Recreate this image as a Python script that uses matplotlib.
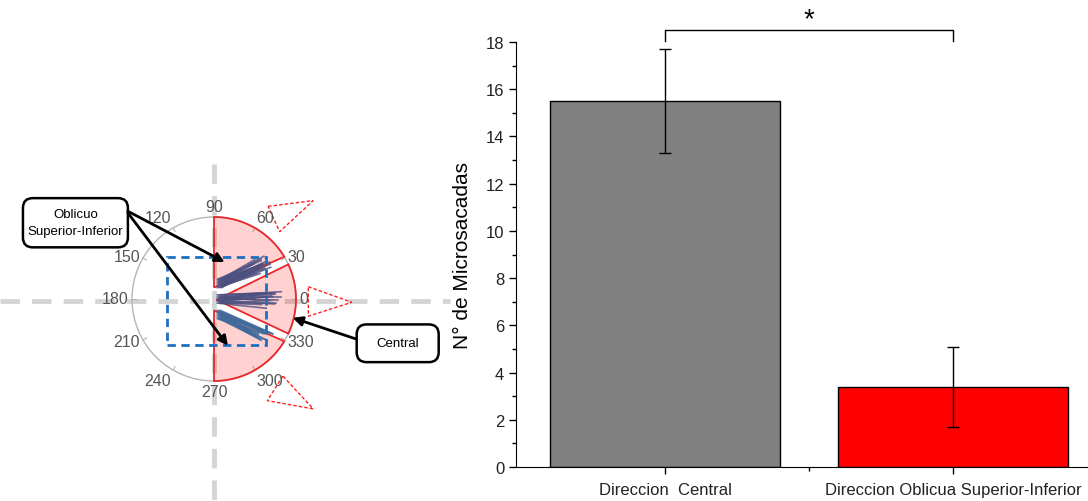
import numpy as np
import matplotlib
matplotlib.use("Agg")
import matplotlib.pyplot as plt
from matplotlib.patches import Polygon, Rectangle, Circle, FancyBboxPatch

plt.rcParams['font.family'] = ['Liberation Sans', 'DejaVu Sans']

# bar chart data
categories = ["Direccion  Central", "Direccion Oblicua Superior-Inferior"]
means = [15.5, 3.4]
errors = [2.2, 1.7]
bar_colors = ["#808080", "#ff0000"]

# polar diagram (unit circle, angles in degrees)
angle_labels = [0, 30, 60, 90, 120, 150, 180, 210, 240, 270, 300, 330]
upper_arc = (31, 90)
central_arc = (-25, 25)
lower_arc = (-90, -31)
# microsaccade traces: direction (deg), length
upper_dirs = [18, 20, 21, 22, 23, 24, 25, 26, 27, 19, 22, 24, 28, 21, 30, 33, 17, 25, 23, 29]
upper_lens = [0.55, 0.6, 0.5, 0.62, 0.58, 0.6, 0.52, 0.55, 0.6, 0.45, 0.66, 0.64, 0.5, 0.57,
              0.48, 0.42, 0.5, 0.62, 0.54, 0.58]
central_dirs = [-6, -3, -1, 0, 2, 3, 5, 7, 4, 1, -2, 6, 8, -4, 3, 0, 9, 5]
central_lens = [0.6, 0.68, 0.7, 0.72, 0.66, 0.62, 0.64, 0.55, 0.7, 0.58, 0.5, 0.6,
                0.52, 0.45, 0.74, 0.65, 0.48, 0.69]
lower_dirs = [-18, -20, -22, -23, -25, -26, -27, -29, -21, -24, -28, -30, -19, -32, -24, -26, -22, -31]
lower_lens = [0.6, 0.62, 0.58, 0.66, 0.6, 0.55, 0.62, 0.5, 0.64, 0.68, 0.56, 0.48, 0.52,
              0.45, 0.7, 0.58, 0.54, 0.6]
triangles = [
    [(0.66, 1.13), (1.21, 1.20), (0.80, 0.82)],
    [(1.15, 0.15), (1.68, -0.04), (1.15, -0.21)],
    [(0.84, -0.94), (0.65, -1.24), (1.21, -1.34)],
]

fig = plt.figure(figsize=(10.88, 5.02), dpi=100)

# ---- left: schematic polar diagram ----
axl = fig.add_axes([0, 0, 460 / 1088, 1])
axl.set_xlim(-214 / 82, 246 / 82)
axl.set_ylim(-202 / 82, 300 / 82)
axl.axis('off')

# crosshair
axl.plot([-2.61, 2.88], [-0.02, -0.02], color="#d4d4d4", lw=3.5, dashes=(4, 2.5), zorder=1)
axl.plot([0, 0], [1.65, -2.46], color="#d4d4d4", lw=3.5, dashes=(4, 2.5), zorder=1)

# gray circle and ticks
axl.add_patch(Circle((0, 0), 1.0, fill=False, ec="#b5b5b5", lw=1.0, zorder=2))
for a in angle_labels:
    t = np.deg2rad(a)
    c, s = np.cos(t), np.sin(t)
    axl.plot([0.95 * c, c], [0.95 * s, s], color="#b5b5b5", lw=0.8, zorder=2)
    ha = 'left' if c > 0.3 else ('right' if c < -0.3 else 'center')
    va = 'bottom' if s > 0.6 else ('top' if s < -0.6 else 'center')
    axl.text(1.04 * c, 1.04 * s, str(a), ha=ha, va=va, fontsize=11.5, color="#555555", zorder=5)


def sector(arc, apex):
    th = np.deg2rad(np.linspace(arc[0], arc[1], 60))
    return [apex] + list(zip(np.cos(th), np.sin(th)))


for arc, apex in [(upper_arc, (0, 0.14)), (central_arc, (0.03, -0.01)), (lower_arc, (0, -0.14))]:
    axl.add_patch(Polygon(sector(arc, apex), closed=True, fc=(1, 0, 0, 0.18), ec="#e8282b", lw=1.3, zorder=3))

# traces
for dirs, lens, y0, col in [(upper_dirs, upper_lens, 0.19, "#4b5080"),
                            (central_dirs, central_lens, 0.0, "#4b5080"),
                            (lower_dirs, lower_lens, -0.19, "#3f6a9a")]:
    for i, (d, L) in enumerate(zip(dirs, lens)):
        t = np.deg2rad(d)
        x0 = 0.04 + 0.02 * (i % 4)
        yy = y0 + 0.025 * ((i % 5) - 2)
        axl.plot([x0, x0 + L * np.cos(t)], [yy, yy + L * np.sin(t)], color=col, lw=1.2, alpha=0.8, zorder=4)

# dashed blue box
axl.add_patch(Rectangle((-0.57, -0.56), 1.20, 1.07, fill=False, ec="#1f6fc0", lw=2, ls=(0, (3, 2)), zorder=4))

# red dashed triangles
for tri in triangles:
    axl.add_patch(Polygon(tri, closed=True, fill=False, ec="#ff2020", lw=1, ls=(0, (2.5, 1.5)), zorder=4))

# annotation boxes
for (cx, cy, w, h), label in [((-1.69, 0.93, 1.28, 0.60), "Oblicuo\nSuperior-Inferior"),
                              ((2.24, -0.54, 1.00, 0.46), "Central")]:
    axl.add_patch(FancyBboxPatch((cx - w / 2, cy - h / 2), w, h,
                                 boxstyle="round,pad=0,rounding_size=0.12",
                                 fc="white", ec="black", lw=1.8, zorder=6))
    axl.text(cx, cy, label, ha='center', va='center', fontsize=9.5, linespacing=1.5, zorder=7)

arrow = dict(arrowstyle="-|>", color="black", lw=2, mutation_scale=14, shrinkA=0, shrinkB=0)
axl.annotate("", xy=(0.13, 0.45), xytext=(-1.05, 1.07), arrowprops=arrow, zorder=6)
axl.annotate("", xy=(0.17, -0.57), xytext=(-1.05, 1.05), arrowprops=arrow, zorder=6)
axl.annotate("", xy=(0.96, -0.23), xytext=(1.74, -0.49), arrowprops=arrow, zorder=6)

# ---- right: bar chart ----
ax = fig.add_axes([516 / 1088, 34 / 502, 572 / 1088, 425 / 502])
x = np.array([1, 2])
ax.bar(x, means, width=0.8, color=bar_colors, edgecolor="black", linewidth=1, zorder=2)
ax.errorbar(x, means, yerr=errors, fmt='none', ecolor="black", elinewidth=1, capsize=4, capthick=1, zorder=3)
ax.set_xlim(0.48, 2.47)
ax.set_ylim(0, 18)
ax.set_yticks(np.arange(0, 19, 2))
ax.set_yticks(np.arange(0, 19, 1), minor=True)
ax.set_xticks(x)
ax.set_xticks([1.5], minor=True)
ax.set_xticklabels(categories)
ax.tick_params(direction='out', length=5, width=1, labelsize=12, labelcolor="#222222")
ax.tick_params(which='minor', direction='out', length=3, width=1)
ax.tick_params(axis='x', pad=6)
ax.spines['top'].set_visible(False)
ax.spines['right'].set_visible(False)
ax.set_ylabel("N° de Microsacadas", fontsize=15, labelpad=10)

# significance bracket
ax.plot([1, 1, 2, 2], [18.05, 18.5, 18.5, 18.05], color="black", lw=1, clip_on=False)
ax.text(1.5, 18.95, "*", ha='center', va='center', fontsize=20, clip_on=False)

fig.savefig("out.png", dpi=100)
